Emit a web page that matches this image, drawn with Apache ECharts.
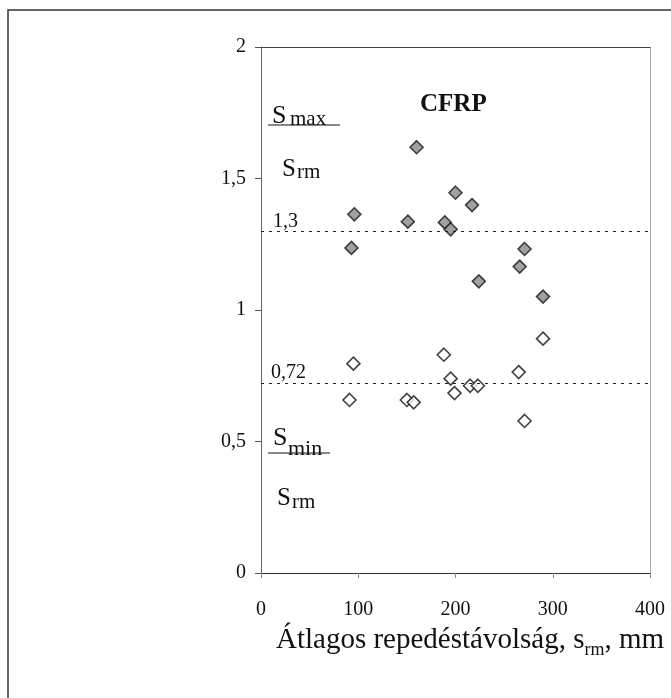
<!DOCTYPE html>
<html>
<head>
<meta charset="utf-8">
<script src="https://cdn.jsdelivr.net/npm/echarts@6/dist/echarts.min.js"></script>
<style>
  html, body { margin: 0; padding: 0; background: #fff; }
  #chart { width: 671px; height: 698px; }
</style>
</head>
<body>
<div id="chart"></div>
<script>
// Mean crack spacing s_rm (mm) and the ratio s_max/s_rm, s_min/s_rm
const maxSpacing = [93, 96, 151, 160, 189, 195, 200, 217, 224, 266, 271, 290];
const maxRatio   = [1.236, 1.364, 1.336, 1.619, 1.333, 1.307, 1.446, 1.399, 1.109, 1.165, 1.232, 1.051];
const minSpacing = [91, 95, 150, 157, 188, 195, 199, 215, 223, 265, 271, 290];
const minRatio   = [0.658, 0.796, 0.658, 0.649, 0.830, 0.739, 0.684, 0.712, 0.712, 0.764, 0.578, 0.891];

// Characteristic ratio levels
const refLevels = [1.3, 0.72];
const refLabels = ['1,3', '0,72'];

const xTicks = { min: 0, max: 400, interval: 100 };
const yTicks = { min: 0, max: 2, interval: 0.5 };

const FONT = '"Liberation Serif", "Times New Roman", serif';
const INK = '#111';

const chart = echarts.init(document.getElementById('chart'), null, { renderer: 'canvas' });

const pairs = (xs, ys) => xs.map((x, i) => [x, ys[i]]);
const comma = v => String(v).replace('.', ',');

chart.setOption({
  backgroundColor: '#fff',
  animation: false,
  grid: { left: 261, top: 47, right: 21, bottom: 125 },
  xAxis: [{
    type: 'value', min: xTicks.min, max: xTicks.max, interval: xTicks.interval,
    axisLine: { show: true, onZero: false, lineStyle: { color: '#333', width: 1 } },
    axisTick: { show: true, inside: false, length: 5, lineStyle: { color: '#888' } },
    axisLabel: { color: INK, fontFamily: FONT, fontSize: 20, margin: 27 },
    splitLine: { show: false }
  }, {
    type: 'value', position: 'top', min: xTicks.min, max: xTicks.max,
    axisLine: { show: true, onZero: false, lineStyle: { color: '#444', width: 1 } },
    axisTick: { show: false }, axisLabel: { show: false }, splitLine: { show: false }
  }],
  yAxis: [{
    type: 'value', min: yTicks.min, max: yTicks.max, interval: yTicks.interval,
    axisLine: { show: true, onZero: false, lineStyle: { color: '#666', width: 1 } },
    axisTick: { show: true, inside: false, length: 6, lineStyle: { color: '#555' } },
    axisLabel: { color: INK, fontFamily: FONT, fontSize: 20, margin: 15, formatter: comma },
    splitLine: { show: false }
  }, {
    type: 'value', position: 'right', min: yTicks.min, max: yTicks.max,
    axisLine: { show: true, onZero: false, lineStyle: { color: '#aaa', width: 1 } },
    axisTick: { show: false }, axisLabel: { show: false }, splitLine: { show: false }
  }],
  series: [{
    name: 'smax', type: 'scatter', symbol: 'diamond', symbolSize: 13,
    itemStyle: { color: '#8a8a8a', borderColor: '#1a1a1a', borderWidth: 1.6 },
    data: pairs(maxSpacing, maxRatio),
    markLine: {
      silent: true, symbol: 'none', label: { show: false },
      lineStyle: { type: [3, 5], color: '#222', width: 1 },
      data: refLevels.map(v => ({ yAxis: v }))
    },
    z: 3
  }, {
    name: 'smin', type: 'scatter', symbol: 'diamond', symbolSize: 13,
    itemStyle: { color: '#fff', borderColor: '#111', borderWidth: 1.6 },
    data: pairs(minSpacing, minRatio),
    z: 3
  }]
});

// Annotations: frame, title, ratio fractions, level labels and axis title
const lvlPix = refLevels.map(v => chart.convertToPixel({ xAxisIndex: 0, yAxisIndex: 0 }, [0, v]));
const txt = (x, y, text, size, extra) => ({
  type: 'text', x, y,
  style: Object.assign({ text, fill: INK, font: size + 'px ' + FONT, textBaseline: 'alphabetic' }, extra || {})
});

chart.setOption({
  graphic: [
    { type: 'rect', shape: { x: 8, y: 10, width: 700, height: 720 },
      style: { fill: 'none', stroke: '#333', lineWidth: 1.5 }, silent: true },
    txt(420, 92, 'CFRP', 25, { font: 'bold 25px ' + FONT }),
    // s_max / s_rm
    txt(272, 103, 'S', 26),
    txt(290, 109, 'max', 21),
    { type: 'line', shape: { x1: 268, y1: 125, x2: 340, y2: 125 }, style: { stroke: '#111', lineWidth: 1 } },
    txt(282, 157, 'S', 25),
    txt(297, 162, 'rm', 21),
    // s_min / s_rm
    txt(273, 425, 'S', 26),
    txt(288, 438, 'min', 22),
    { type: 'line', shape: { x1: 268, y1: 453, x2: 330, y2: 453 }, style: { stroke: '#111', lineWidth: 1 } },
    txt(277, 486, 'S', 25),
    txt(292, 492, 'rm', 21),
    // level labels
    txt(lvlPix[0][0] + 12, lvlPix[0][1] - 19, refLabels[0], 20),
    txt(lvlPix[1][0] + 10, lvlPix[1][1] - 21, refLabels[1], 20),
    // x axis title
    {
      type: 'text', x: 276, y: 626,
      style: {
        text: '{a|Átlagos repedéstávolság, s}{b|rm}{a|, mm}',
        fill: INK,
        rich: {
          a: { fontFamily: FONT, fontSize: 29, lineHeight: 31, verticalAlign: 'top', fill: INK },
          b: { fontFamily: FONT, fontSize: 18, lineHeight: 18, padding: [15, 0, 0, 0], verticalAlign: 'top', fill: INK }
        }
      }
    }
  ]
});
</script>
</body>
</html>
